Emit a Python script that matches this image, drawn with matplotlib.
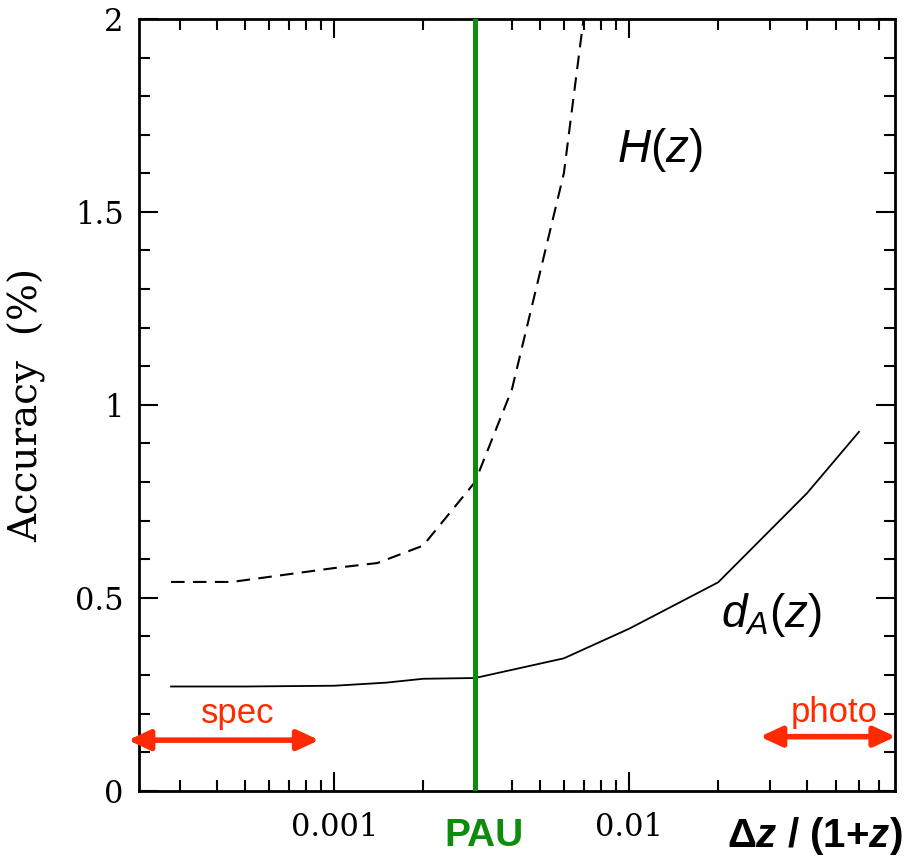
import matplotlib
matplotlib.use('Agg')
import matplotlib.pyplot as plt
from matplotlib.ticker import LogLocator, MultipleLocator, NullFormatter, FixedFormatter, FixedLocator

plt.rcParams['mathtext.fontset'] = 'custom'
plt.rcParams['mathtext.rm'] = 'Liberation Sans'
plt.rcParams['mathtext.it'] = 'Liberation Sans:italic'
plt.rcParams['mathtext.bf'] = 'Liberation Sans:bold'
plt.rcParams['mathtext.bfit'] = 'Liberation Sans:italic:bold'

# d_A(z) accuracy (solid)
dz_da = [0.00028, 0.0005, 0.001, 0.0015, 0.002, 0.003, 0.006, 0.01, 0.02, 0.04, 0.06]
acc_da = [0.27, 0.27, 0.272, 0.28, 0.29, 0.292, 0.343, 0.42, 0.54, 0.771, 0.93]

# H(z) accuracy (dashed)
dz_h = [0.00028, 0.00045, 0.001, 0.0014, 0.002, 0.003, 0.004, 0.006, 0.008]
acc_h = [0.541, 0.541, 0.577, 0.59, 0.635, 0.80, 1.04, 1.6, 2.35]

pau_dz = 0.003
spec_range = [0.0002, 0.00089]
photo_range = [0.0277, 0.08]

xticks = [0.001, 0.01]
xticklabels = ['0.001', '0.01']
yticks = [0, 0.5, 1, 1.5, 2]
yticklabels = ['0', '0.5', '1', '1.5', '2']

red = '#ff2a00'
green = '#0e8c0e'
serif = 'DejaVu Serif'

fig = plt.figure(figsize=(9.12, 8.63), dpi=100)
ax = fig.add_axes([0.1524, 0.0838, 0.829, 0.8942])

ax.plot(dz_da, acc_da, color='black', lw=1.3)
ax.plot(dz_h, acc_h, color='black', lw=1.5, linestyle=(0, (6.5, 4)))
ax.axvline(pau_dz, color=green, lw=3.6, zorder=3)

ax.set_xscale('log')
ax.set_xlim(0.000218, 0.0795)
ax.set_ylim(0, 2)

ax.xaxis.set_major_locator(FixedLocator(xticks))
ax.xaxis.set_major_formatter(FixedFormatter(xticklabels))
ax.xaxis.set_minor_locator(LogLocator(base=10, subs=range(2, 10), numticks=20))
ax.xaxis.set_minor_formatter(NullFormatter())
ax.yaxis.set_major_locator(FixedLocator(yticks))
ax.yaxis.set_major_formatter(FixedFormatter(yticklabels))
ax.yaxis.set_minor_locator(MultipleLocator(0.1))

ax.tick_params(which='both', direction='in', top=True, right=True, width=1.5, colors='black')
ax.tick_params(which='major', length=14)
ax.tick_params(which='minor', length=8)
ax.tick_params(axis='x', which='major', pad=15)
ax.tick_params(axis='y', which='major', pad=11)
for lab in ax.get_xticklabels() + ax.get_yticklabels():
    lab.set_fontfamily(serif)
    lab.set_fontsize(22)
for sp in ax.spines.values():
    sp.set_linewidth(2)

ax.set_ylabel('Accuracy  (%)', fontfamily=serif, fontsize=28)
ax.yaxis.set_label_coords(-0.123, 0.5)

ax.text(0.689, 0.830, r'$H(z)$', transform=ax.transAxes, fontsize=33, ha='center', va='center')
ax.text(0.836, 0.228, r'$d_A(z)$', transform=ax.transAxes, fontsize=33, ha='center', va='center')

for rng, yv in [(spec_range, 0.131), (photo_range, 0.14)]:
    ax.annotate('', xy=(rng[0], yv), xytext=(rng[1], yv),
                arrowprops=dict(arrowstyle='<|-|>,head_length=1.3,head_width=0.6', color=red, lw=4,
                                shrinkA=0, shrinkB=0), annotation_clip=False)
ax.text(0.130, 0.1, 'spec', transform=ax.transAxes, fontsize=25, color=red,
        family='Liberation Sans', ha='center', va='center')
ax.text(0.919, 0.101, 'photo', transform=ax.transAxes, fontsize=25, color=red,
        family='Liberation Sans', ha='center', va='center')

fig.text(484 / 912, 1 - 836 / 863, 'PAU', fontsize=28, fontweight='bold', color=green,
         family='Liberation Sans', ha='center', va='center')
fig.text(903 / 912, 1 - 836 / 863,
         r'$\mathbf{\Delta}\mathbfit{z}\ \mathbf{/\ (1{+}}\mathbfit{z}\mathbf{)}$',
         fontsize=29, ha='right', va='center')

fig.savefig('out.png', dpi=100)
